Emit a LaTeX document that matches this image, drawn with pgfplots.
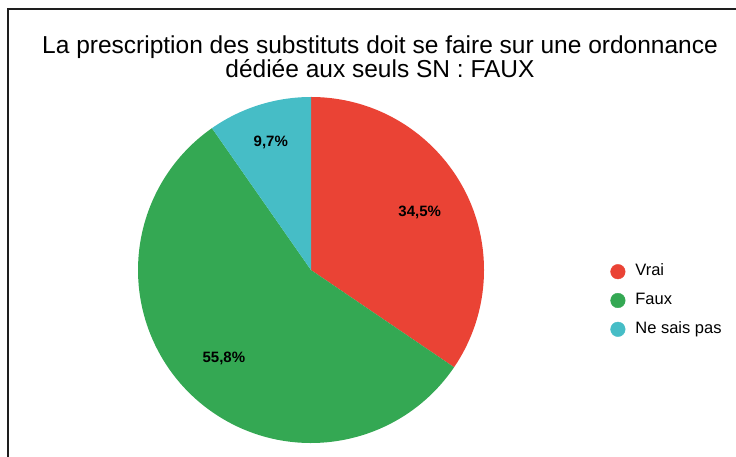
\documentclass[border=0pt]{standalone}
\usepackage{pgfplots}
\usepackage{pgfplotstable}
\pgfplotsset{compat=1.18}
\usepackage{fontspec}
\setmainfont{Liberation Sans}
\definecolor{cvrai}{RGB}{234,67,53}
\definecolor{cfaux}{RGB}{52,168,83}
\definecolor{cnsp}{RGB}{70,189,198}
\definecolor{cframe}{RGB}{30,30,30}

\pgfplotstableread{
label value lr color
Vrai 34.5 123 cvrai
Faux 55.8 124 cfaux
{Ne sais pas} 9.7 134 cnsp
}\piedata

\begin{document}
\begin{tikzpicture}
\begin{axis}[
  x=1pt, y=1pt,
  xmin=0, xmax=736, ymin=0, ymax=457,
  hide axis, clip=false,
  at={(0,0)}, anchor=south west,
  legend image code/.code={\fill[#1] (0pt,0pt) circle (7.3pt);},
  legend style={
    at={(axis cs:610.4,192.8)}, anchor=north west,
    draw=none, fill=none, inner sep=0pt, outer sep=0pt,
    font=\fontsize{16.5}{19}\selectfont,
    row sep=13.8pt, column sep=10pt,
    nodes={inner sep=0pt, text height=11.5pt, text depth=3.5pt},
  },
  legend cell align=left,
]
\def\cx{311}\def\cy{187}\def\R{173}
\xdef\cum{90}
\foreach \i in {0,1,2}{
  \pgfplotstablegetelem{\i}{value}\of\piedata \let\v\pgfplotsretval
  \pgfplotstablegetelem{\i}{color}\of\piedata \let\c\pgfplotsretval
  \pgfmathsetmacro\a{\cum}
  \pgfmathsetmacro\b{\cum-3.6*\v}
  \pgfmathsetmacro\px{\cx+\R*cos(\a)}
  \pgfmathsetmacro\py{\cy+\R*sin(\a)}
  \edef\temp{\noexpand\fill[\c] (axis cs:\cx,\cy) -- (axis cs:\px,\py) arc[start angle=\a, end angle=\b, radius=\R pt] -- cycle;}
  \temp
  \xdef\cum{\b}
}
\xdef\cum{90}
\foreach \i in {0,1,2}{
  \pgfplotstablegetelem{\i}{value}\of\piedata \let\v\pgfplotsretval
  \pgfplotstablegetelem{\i}{lr}\of\piedata \let\lr\pgfplotsretval
  \pgfmathsetmacro\b{\cum-3.6*\v}
  \pgfmathsetmacro\m{(\cum+\b)/2}
  \pgfmathsetmacro\lx{\cx+\lr*cos(\m)}
  \pgfmathsetmacro\ly{\cy+\lr*sin(\m)}
  \edef\temp{\noexpand\node[font=\noexpand\fontsize{15}{18}\noexpand\selectfont\noexpand\bfseries, inner sep=0pt] at (axis cs:\lx,\ly) {\noexpand\pgfmathprintnumber[fixed,precision=1,fixed zerofill,use comma,assume math mode=true]{\v}\noexpand\%};}
  \temp
  \xdef\cum{\b}
}
\addlegendimage{cvrai}\addlegendentry{Vrai}
\addlegendimage{cfaux}\addlegendentry{Faux}
\addlegendimage{cnsp}\addlegendentry{Ne sais pas}
\node[anchor=base, inner sep=0pt, font=\fontsize{24.5}{28}\selectfont] at (axis cs:380,403) {La prescription des substituts doit se faire sur une ordonnance};
\node[anchor=base, inner sep=0pt, font=\fontsize{24.5}{28}\selectfont] at (axis cs:380,379.5) {dédiée aux seuls SN : FAUX};
\draw[line width=1.5pt, cframe] (axis cs:8,0) -- (axis cs:8,448) -- (axis cs:736,448);
\end{axis}
\pgfresetboundingbox
\path[use as bounding box] (0,0) rectangle (736pt,457pt);
\end{tikzpicture}
\end{document}
